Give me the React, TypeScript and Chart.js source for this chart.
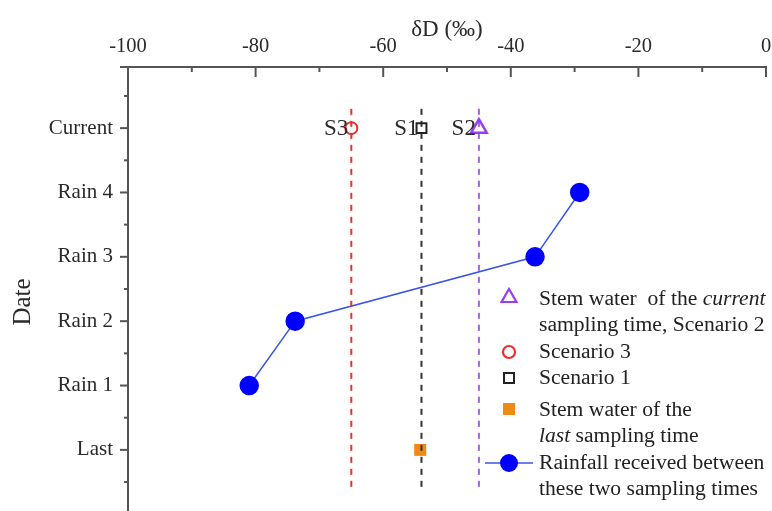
import React, { useEffect, useRef } from "react";
import { Chart, registerables } from "chart.js";

Chart.register(...registerables);

// ---- Data ----
const Y_CATEGORIES = ["Last", "Rain 1", "Rain 2", "Rain 3", "Rain 4", "Current"];
const X_TICKS = [-100, -80, -60, -40, -20, 0];

// Rainfall (Rain 1..Rain 4) δD values
const RAIN_LABELS = ["Rain 1", "Rain 2", "Rain 3", "Rain 4"];
const RAIN_VALUES = [-81.0, -73.8, -36.2, -29.2];

// Current sampling time scenarios
const SCENARIO_NAMES = ["S3", "S1", "S2"];
const SCENARIO_VALUES = [-65, -54, -45];
const SCENARIO_COLORS = ["#e8302c", "#222222", "#9b3cf0"];
const SCENARIO_LINE_COLORS = ["#e8302c", "#333333", "#a060f0"];

// Last sampling time stem water
const LAST_VALUE = -54.2;

// Vertical guide line extents (in category units)
const GUIDE_TOP = 5.3;
const GUIDE_BOTTOM = -0.58;

const FONT = "'Liberation Serif', 'Times New Roman', serif";

const catIndex = (name: string) => Y_CATEGORIES.indexOf(name);

const zeroPad = (s: any) => {
  s.paddingLeft = 0;
  s.paddingRight = 0;
  s.paddingTop = 0;
  s.paddingBottom = 0;
};

export default function App() {
  const canvasRef = useRef<HTMLCanvasElement | null>(null);

  useEffect(() => {
    const canvas = canvasRef.current;
    if (!canvas) return;

    const decorPlugin = {
      id: "decor",
      afterDraw(chart: any) {
        const ctx = chart.ctx;
        const xs = chart.scales.x;
        const ys = chart.scales.y;
        const area = chart.chartArea;
        ctx.save();
        ctx.strokeStyle = "#555";
        ctx.lineWidth = 2;
        // x ticks (inward / downward)
        for (let v = xs.min; v <= xs.max + 1e-9; v += 10) {
          const px = xs.getPixelForValue(v);
          const major = Math.abs(v % 20) < 1e-9;
          ctx.beginPath();
          ctx.moveTo(px, area.top);
          ctx.lineTo(px, area.top + (major ? 10 : 5));
          ctx.stroke();
        }
        // y ticks (outward / left)
        for (let v = -0.5; v <= 5.5 + 1e-9; v += 0.5) {
          const py = ys.getPixelForValue(v);
          const major = Math.abs(v - Math.round(v)) < 1e-9;
          ctx.beginPath();
          ctx.moveTo(area.left, py);
          ctx.lineTo(area.left - (major ? 8 : 4), py);
          ctx.stroke();
        }
        // extend top axis slightly left
        ctx.beginPath();
        ctx.moveTo(area.left - 8, area.top);
        ctx.lineTo(area.left, area.top);
        ctx.stroke();

        // scenario labels
        ctx.fillStyle = "#2a2a2a";
        ctx.font = `23px ${FONT}`;
        ctx.textAlign = "right";
        ctx.textBaseline = "middle";
        const cy = ys.getPixelForValue(catIndex("Current"));
        SCENARIO_NAMES.forEach((n, i) => {
          const px = xs.getPixelForValue(SCENARIO_VALUES[i]);
          ctx.fillText(n, px - 3, cy + 1);
        });

        // axis titles
        ctx.font = `23px ${FONT}`;
        ctx.textAlign = "center";
        ctx.fillText("δD (‰)", (area.left + area.right) / 2, 30);
        ctx.save();
        ctx.translate(23, 302);
        ctx.rotate(-Math.PI / 2);
        ctx.font = `25px ${FONT}`;
        ctx.fillText("Date", 0, 0);
        ctx.restore();
        ctx.restore();
      },
    };

    const guideDatasets = SCENARIO_VALUES.map((v, i) => ({
      label: `guide-${SCENARIO_NAMES[i]}`,
      data: [
        { x: v, y: GUIDE_TOP },
        { x: v, y: GUIDE_BOTTOM },
      ],
      showLine: true,
      borderColor: SCENARIO_LINE_COLORS[i],
      borderWidth: 2,
      borderDash: [6, 6],
      pointRadius: 0,
      order: 1,
    }));

    const chart = new Chart(canvas, {
      type: "scatter",
      data: {
        datasets: [
          {
            label: "Rainfall",
            data: RAIN_LABELS.map((r, i) => ({ x: RAIN_VALUES[i], y: catIndex(r) })),
            showLine: true,
            borderColor: "#3a55e6",
            borderWidth: 1.5,
            backgroundColor: "#0000ff",
            pointBackgroundColor: "#0000ff",
            pointBorderColor: "#0000ff",
            pointRadius: 9,
            order: 3,
          },
          ...guideDatasets,
          {
            label: "Last",
            data: [{ x: LAST_VALUE, y: catIndex("Last") }],
            pointStyle: "rect",
            pointRadius: 8.5,
            backgroundColor: "#f08a16",
            borderColor: "#f08a16",
            borderWidth: 0,
            order: 2,
          },
          {
            label: "S3",
            data: [{ x: SCENARIO_VALUES[0], y: catIndex("Current") }],
            pointStyle: "circle",
            pointRadius: 6,
            backgroundColor: "rgba(0,0,0,0)",
            borderColor: SCENARIO_COLORS[0],
            borderWidth: 2,
            order: 0,
          },
          {
            label: "S1",
            data: [{ x: SCENARIO_VALUES[1], y: catIndex("Current") }],
            pointStyle: "rect",
            pointRadius: 7,
            backgroundColor: "rgba(0,0,0,0)",
            borderColor: SCENARIO_COLORS[1],
            borderWidth: 2,
            order: 0,
          },
          {
            label: "S2",
            data: [{ x: SCENARIO_VALUES[2], y: catIndex("Current") }],
            pointStyle: "triangle",
            pointRadius: 9,
            backgroundColor: "rgba(0,0,0,0)",
            borderColor: SCENARIO_COLORS[2],
            borderWidth: 2.5,
            order: 0,
          },
        ],
      },
      options: {
        animation: false,
        responsive: false,
        maintainAspectRatio: false,
        layout: { autoPadding: false, padding: { left: 0, right: 6, top: 0, bottom: 0 } },
        plugins: { legend: { display: false }, tooltip: { enabled: false } },
        scales: {
          x: {
            type: "linear",
            position: "top",
            min: -100,
            max: 0,
            afterFit: (s: any) => {
              s.height = 67;
              zeroPad(s);
            },
            afterBuildTicks: (s: any) => {
              s.ticks = X_TICKS.map((v) => ({ value: v }));
            },
            grid: { display: false, drawTicks: false },
            border: { display: true, color: "#555", width: 2 },
            ticks: {
              padding: 8,
              maxRotation: 0,
              autoSkip: false,
              color: "#2a2a2a",
              font: { family: FONT, size: 20.5 },
            },
          },
          y: {
            type: "linear",
            min: -0.95,
            max: 5.95,
            afterFit: (s: any) => {
              s.width = 128;
              zeroPad(s);
            },
            afterBuildTicks: (s: any) => {
              s.ticks = Y_CATEGORIES.map((_, i) => ({ value: i }));
            },
            grid: { display: false, drawTicks: false },
            border: { display: true, color: "#555", width: 2 },
            ticks: {
              padding: 15,
              autoSkip: false,
              color: "#2a2a2a",
              font: { family: FONT, size: 21 },
              callback: (v: any) => Y_CATEGORIES[Math.round(Number(v))] ?? "",
            },
          },
        },
      },
      plugins: [decorPlugin],
    });

    return () => chart.destroy();
  }, []);

  const textStyle: React.CSSProperties = {
    position: "absolute",
    left: 539,
    fontFamily: FONT,
    fontSize: 21.6,
    lineHeight: "25.5px",
    color: "#222",
    whiteSpace: "pre",
  };

  const sym = (cx: number, cy: number, child: React.ReactNode, w = 52) => (
    <svg
      style={{ position: "absolute", left: cx - w / 2, top: cy - 12 }}
      width={w}
      height={24}
      viewBox={`${-w / 2} -12 ${w} 24`}
    >
      {child}
    </svg>
  );

  return (
    <div style={{ position: "fixed", left: 0, top: 0, width: 772, height: 511, background: "#fff" }}>
      <canvas ref={canvasRef} width={772} height={511} style={{ position: "absolute", left: 0, top: 0 }} />
      {/* Legend */}
      {sym(509, 296, <polygon points="0,-7 7.5,6 -7.5,6" fill="none" stroke="#9b3cf0" strokeWidth={2.2} />)}
      <div style={{ ...textStyle, top: 286 }}>
        {"Stem water  of the "}
        <i>current</i>
        {"\nsampling time, Scenario 2"}
      </div>
      {sym(509, 352, <circle cx={0} cy={0} r={6} fill="none" stroke="#e8302c" strokeWidth={2.2} />)}
      <div style={{ ...textStyle, top: 339 }}>{"Scenario 3"}</div>
      {sym(509, 378, <rect x={-5} y={-5} width={10} height={10} fill="none" stroke="#222" strokeWidth={2} />)}
      <div style={{ ...textStyle, top: 365 }}>{"Scenario 1"}</div>
      {sym(509, 409, <rect x={-6} y={-6} width={12} height={12} fill="#f08a16" />)}
      <div style={{ ...textStyle, top: 397 }}>
        {"Stem water of the\n"}
        <i>last</i>
        {" sampling time"}
      </div>
      {sym(
        509,
        463,
        <g>
          <line x1={-24} y1={0} x2={24} y2={0} stroke="#3a55e6" strokeWidth={1.5} />
          <circle cx={0} cy={0} r={9} fill="#0000ff" />
        </g>
      )}
      <div style={{ ...textStyle, top: 450 }}>
        {"Rainfall received between\nthese two sampling times"}
      </div>
    </div>
  );
}
